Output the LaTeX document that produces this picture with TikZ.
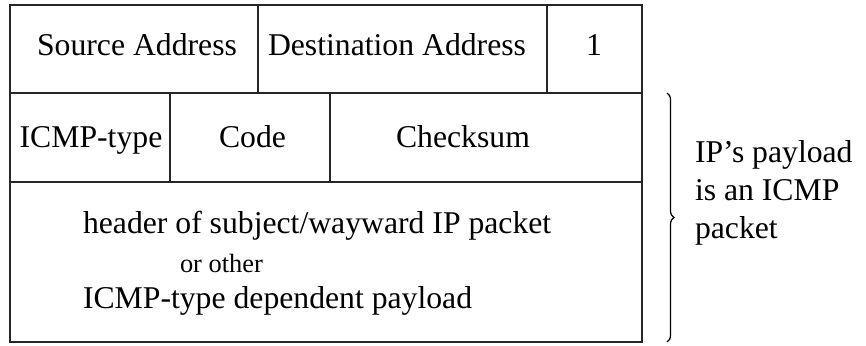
\documentclass[tikz,border=0pt]{standalone}
\usepackage{fontspec}
\setmainfont{Liberation Serif}
\usetikzlibrary{decorations.pathreplacing}
\tikzset{
  tbl/.style={line width=0.85pt, draw=black!85},
  txt/.style={font=\fontsize{15.85}{19}\selectfont, inner sep=0pt, outer sep=0pt},
  smalltxt/.style={font=\fontsize{13.2}{16}\selectfont, inner sep=0pt, outer sep=0pt},
  bracestyle/.style={line width=0.6pt, decorate, decoration={brace, amplitude=3.5pt}}
}
\begin{document}
\begin{tikzpicture}[x=0.5pt,y=-0.5pt]
\useasboundingbox (0,0) rectangle (866,345);
% table frame
\coordinate (tl) at (10,5);
\coordinate (br) at (642,342);
\draw[tbl] (tl) rectangle (br);
\draw[tbl] (10,93) -- (642,93);
\draw[tbl] (10,182) -- (642,182);
\draw[tbl] (258,5) -- (258,93);
\draw[tbl] (547,5) -- (547,93);
\draw[tbl] (170,93) -- (170,182);
\draw[tbl] (330,93) -- (330,182);
% row 1
\node[txt, anchor=base] (src) at (137,55) {Source Address};
\node[txt, anchor=base] (dst) at (397,55) {Destination Address};
\node[txt, anchor=base] (one) at (594,55) {1};
% row 2
\node[txt, anchor=base] (type) at (91,147) {ICMP-type};
\node[txt, anchor=base] (code) at (252.5,147) {Code};
\node[txt, anchor=base] (csum) at (463,147) {Checksum};
% row 3
\node[txt, anchor=base west] (pay1) at (83,233) {header of subject/wayward IP packet};
\node[smalltxt, anchor=base west] (pay2) at (180,272) {or other};
\node[txt, anchor=base west] (pay3) at (83,308) {ICMP-type dependent payload};
% brace
\coordinate (bt) at (667,93);
\coordinate (bb) at (667,342);
\draw[bracestyle] (bt) -- (bb);
\node[txt, anchor=base west, align=left] (note) at (695,238) {IP’s payload\\is an ICMP\\packet};
\end{tikzpicture}
\end{document}
